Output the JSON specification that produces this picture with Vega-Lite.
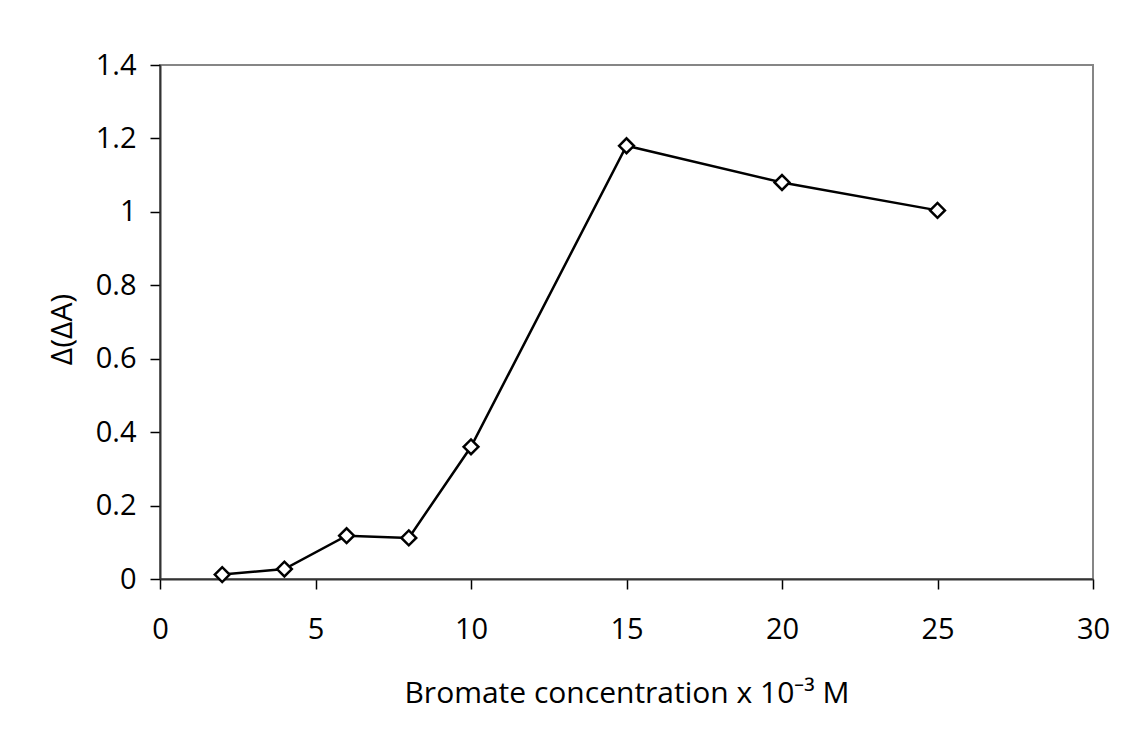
{
  "$schema": "https://vega.github.io/schema/vega-lite/v6.json",
  "autosize": {"type": "none"},
  "padding": {"left": 160, "top": 65, "right": 33, "bottom": 171},
  "width": 933,
  "height": 514,
  "background": "white",
  "config": {
    "view": {"stroke": "#868686", "strokeWidth": 2},
    "font": "Open Sans",
    "axis": {
      "grid": false,
      "domainColor": "#333333",
      "domainWidth": 2,
      "tickColor": "#000000",
      "tickWidth": 1.5,
      "tickSize": 10,
      "labelFont": "Open Sans",
      "labelFontSize": 29,
      "labelColor": "#000000",
      "labelFontWeight": "normal",
      "titleFont": "Open Sans",
      "titleFontSize": 30,
      "titleFontWeight": "normal",
      "titleColor": "#000000"
    }
  },
  "data": {
    "values": [
      {"conc": 2, "dA": 0.012},
      {"conc": 4, "dA": 0.027},
      {"conc": 6, "dA": 0.118},
      {"conc": 8, "dA": 0.112},
      {"conc": 10, "dA": 0.36},
      {"conc": 15, "dA": 1.18},
      {"conc": 20, "dA": 1.08},
      {"conc": 25, "dA": 1.004}
    ]
  },
  "encoding": {
    "x": {
      "field": "conc",
      "type": "quantitative",
      "scale": {"domain": [0, 30], "nice": false, "zero": true},
      "axis": {
        "values": [0, 5, 10, 15, 20, 25, 30],
        "format": "~g",
        "title": "Bromate concentration x 10⁻³ M",
        "labelPadding": 26,
        "labelFlush": false,
        "titleX": 466.5,
        "titleY": 114,
        "titleAlign": "center",
        "titleBaseline": "middle"
      }
    },
    "y": {
      "field": "dA",
      "type": "quantitative",
      "scale": {"domain": [0, 1.4], "nice": false},
      "axis": {
        "values": [0, 0.2, 0.4, 0.6, 0.8, 1, 1.2, 1.4],
        "format": "~g",
        "title": "Δ(ΔA)",
        "labelPadding": 14,
        "labelFlush": false,
        "titleX": -98,
        "titleY": 264,
        "titleAngle": -90,
        "titleAlign": "center",
        "titleBaseline": "middle"
      }
    }
  },
  "layer": [
    {"mark": {"type": "line", "color": "#000000", "strokeWidth": 2.5}},
    {"mark": {"type": "point", "shape": "diamond", "size": 220, "filled": true, "fill": "#ffffff", "stroke": "#000000", "strokeWidth": 2.5, "opacity": 1}}
  ]
}
